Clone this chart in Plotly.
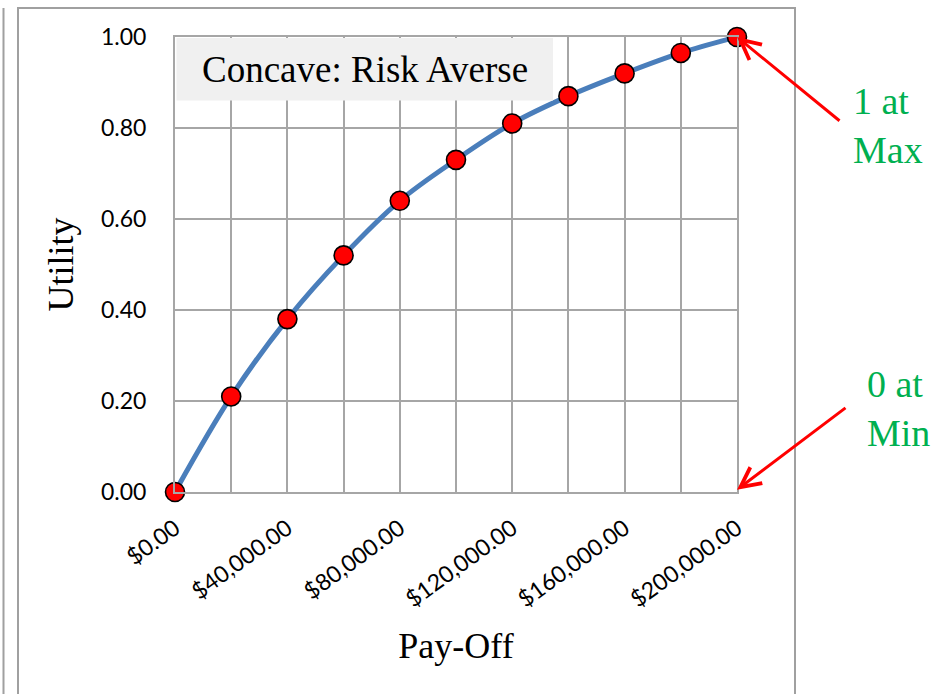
import plotly.graph_objects as go

# Utility of each pay-off level (concave curve)
payoff = [0, 20000, 40000, 60000, 80000, 100000, 120000, 140000, 160000, 180000, 200000]
utility = [0.00, 0.21, 0.38, 0.52, 0.64, 0.73, 0.81, 0.87, 0.92, 0.965, 1.00]

chart_title = "Concave: Risk Averse"
x_title = "Pay-Off"
y_title = "Utility"
max_note = "1 at<br>Max"
min_note = "0 at<br>Min"

W, H = 942, 694
L, R, T, B = 175, 205, 37, 202
PW, PH = W - L - R, H - T - B


def px_x(p):
    return (p - L) / PW


def px_y(p):
    return (H - B - p) / PH


SERIF = "Liberation Serif, Times New Roman, serif"
SANS = "Lato, Open Sans, sans-serif"
GRID = "#a6a6a6"
FRAME = "#a0a0a0"
RED = "#ff0000"
GREEN = "#00b050"

fig = go.Figure()
fig.add_trace(go.Scatter(
    x=payoff, y=utility,
    mode="lines+markers",
    line=dict(color="#4a7ebb", width=5, shape="spline", smoothing=1),
    marker=dict(size=19, color=RED, line=dict(color="#000000", width=1.6)),
    cliponaxis=False,
    showlegend=False,
))

fig.update_layout(
    width=W, height=H,
    margin=dict(l=L, r=R, t=T, b=B, autoexpand=False),
    paper_bgcolor="white",
    plot_bgcolor="white",
    xaxis=dict(
        range=[0, 200000],
        tick0=0, dtick=40000,
        tickprefix="$", tickformat=",.2f",
        tickangle=-36,
        tickfont=dict(family=SANS, size=23, color="#000000"),
        ticks="", ticklabelstandoff=12,
        showgrid=True, gridcolor=GRID, gridwidth=2,
        minor=dict(dtick=20000, showgrid=True, gridcolor=GRID, gridwidth=2),
        showline=True, linecolor=GRID, linewidth=2, mirror=True,
        zeroline=False,
        title=dict(text=x_title, font=dict(family=SERIF, size=36, color="#000000"), standoff=22),
        automargin=False,
    ),
    yaxis=dict(
        range=[0, 1],
        tick0=0, dtick=0.2,
        tickformat=".2f",
        tickfont=dict(family=SANS, size=23, color="#000000"),
        ticks="", ticklabelstandoff=22,
        showgrid=True, gridcolor=GRID, gridwidth=2,
        showline=True, linecolor=GRID, linewidth=2, mirror=True,
        zeroline=False,
        title=dict(text=y_title, font=dict(family=SERIF, size=36, color="#000000"), standoff=16),
        automargin=False,
    ),
)

# Chart frame and the neighbouring panel edge
fig.add_shape(type="rect", xref="paper", yref="paper",
              x0=px_x(18), x1=px_x(795), y0=px_y(720), y1=px_y(8),
              line=dict(color=FRAME, width=2), fillcolor="rgba(0,0,0,0)", layer="below")
fig.add_shape(type="line", xref="paper", yref="paper",
              x0=px_x(3.5), x1=px_x(3.5), y0=px_y(720), y1=px_y(8),
              line=dict(color=FRAME, width=2), layer="below")

# Title box inside the plot area, hiding the grid behind it
fig.add_shape(type="rect", xref="paper", yref="paper",
              x0=px_x(176.5), x1=px_x(553), y0=px_y(100.5), y1=px_y(38),
              line=dict(width=0), fillcolor="#f0f0f0", layer="above")
fig.add_annotation(
    x=px_x(364.5), y=px_y(69.5), xref="paper", yref="paper",
    xanchor="center", yanchor="middle",
    text=chart_title, showarrow=False,
    font=dict(family=SERIF, size=37, color="#000000"),
)

# Arrows pointing at the extremes of the curve
fig.add_annotation(
    x=payoff[-1], y=utility[-1], xref="x", yref="y",
    ax=104, ay=85, axref="pixel", ayref="pixel",
    text="", showarrow=True,
    arrowhead=5, arrowsize=1.3, arrowwidth=3, arrowcolor=RED, standoff=0,
)
fig.add_annotation(
    x=payoff[-1], y=0.005, xref="x", yref="y",
    ax=110, ay=-83, axref="pixel", ayref="pixel",
    text="", showarrow=True,
    arrowhead=5, arrowsize=1.3, arrowwidth=3, arrowcolor=RED, standoff=0,
)
fig.add_annotation(
    x=px_x(851), y=px_y(126), xref="paper", yref="paper",
    xanchor="left", yanchor="middle",
    text=max_note, showarrow=False, align="left",
    font=dict(family=SERIF, size=38, color=GREEN),
)
fig.add_annotation(
    x=px_x(865), y=px_y(408), xref="paper", yref="paper",
    xanchor="left", yanchor="middle",
    text=min_note, showarrow=False, align="left",
    font=dict(family=SERIF, size=38, color=GREEN),
)

fig.write_html("out.html")
